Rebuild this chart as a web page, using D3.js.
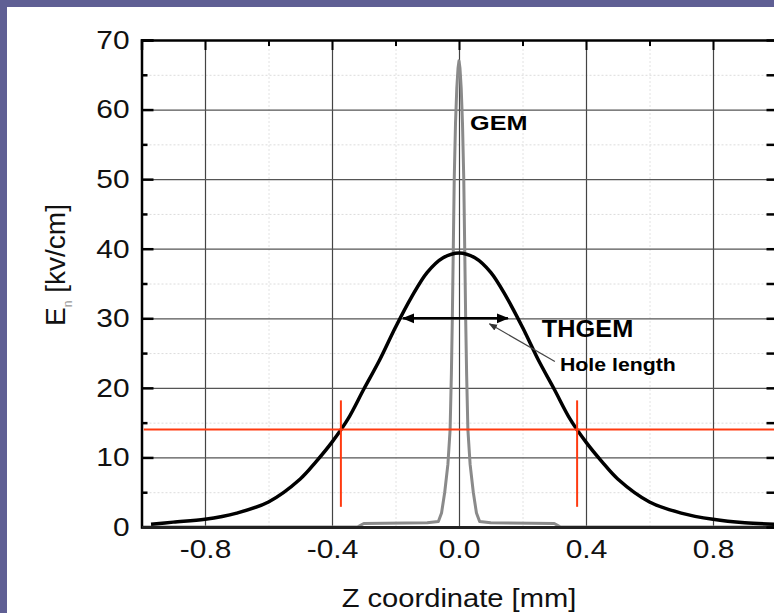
<!DOCTYPE html>
<html>
<head>
<meta charset="utf-8">
<script src="https://cdn.jsdelivr.net/npm/d3@7"></script>
<style>
  body { margin: 0; background: #5f5f94; }
  svg { display: block; }
  text { font-family: "Liberation Sans", Arial, sans-serif; }
</style>
</head>
<body>
<div id="chart"></div>
<script>
// THGEM field along the hole axis (black curve)
var thgemZ = [-0.97, -0.9, -0.8, -0.7, -0.6, -0.5, -0.45, -0.4, -0.35, -0.3, -0.25, -0.2, -0.15, -0.1, -0.05, 0,
              0.05, 0.1, 0.15, 0.2, 0.25, 0.3, 0.35, 0.4, 0.45, 0.5, 0.6, 0.7, 0.8, 0.9, 1.0];
var thgemField = [0.4, 0.7, 1.1, 2.0, 3.6, 6.9, 9.4, 12.2, 15.5, 19.8, 24.0, 28.7, 33.0, 36.6, 38.7, 39.4,
                  38.7, 36.6, 33.0, 28.7, 24.0, 19.8, 15.5, 12.2, 9.4, 6.9, 3.6, 2.0, 1.1, 0.6, 0.4];

// GEM field (grey spike)
var gemZ = [-1.0, -0.32, -0.3, -0.1, -0.065, -0.055, -0.045, -0.035, -0.028, -0.024, -0.021, -0.018, -0.015, -0.011, -0.007, -0.003, 0,
            0.003, 0.007, 0.011, 0.015, 0.018, 0.021, 0.024, 0.028, 0.035, 0.045, 0.055, 0.065, 0.1, 0.3, 0.32, 1.0];
var gemField = [0, 0, 0.5, 0.6, 0.8, 2, 5, 9, 14, 22, 30, 40, 50, 58, 63, 66, 67,
                66, 63, 58, 50, 40, 30, 22, 14, 9, 5, 2, 0.8, 0.6, 0.5, 0, 0];

// red markers: field level and hole edges
var markLevel = 14;
var holeEdges = [-0.372, 0.372];
var markTop = 18.2, markBottom = 2.9;

// hole length arrow
var arrowZ = [-0.176, 0.154];
var arrowLevel = 30;

var xTicks = [-0.8, -0.4, 0.0, 0.4, 0.8];
var xMinor = [-0.6, -0.2, 0.2, 0.6];
var yTicks = [0, 10, 20, 30, 40, 50, 60, 70];
var yMinor = [5, 15, 25, 35, 45, 55, 65];

function drawChart() {
  var svgWidth = 774, svgHeight = 613;
  var plotLeft = 141.5, plotRight = 776.5, plotTop = 40, plotBottom = 527;

  var svg = d3.select("#chart").append("svg")
    .attr("width", svgWidth)
    .attr("height", svgHeight);

  svg.append("rect")
    .attr("width", svgWidth).attr("height", svgHeight)
    .attr("fill", "#5f5f94");
  svg.append("rect")
    .attr("x", 7).attr("y", 7)
    .attr("width", svgWidth).attr("height", svgHeight)
    .attr("fill", "#ffffff");

  var x = d3.scaleLinear().domain([-1, 1]).range([plotLeft, plotRight]);
  var y = d3.scaleLinear().domain([0, 70]).range([plotBottom, plotTop]);

  // stretch text a bit wider, like the source picture
  function widen(sel, k) {
    sel.each(function() {
      var w = this.getComputedTextLength();
      d3.select(this).attr("textLength", w * k).attr("lengthAdjust", "spacingAndGlyphs");
    });
  }

  var fmtX = d => d3.format(".1f")(d).replace("−", "-");

  // minor grid (faint)
  svg.append("g")
    .attr("transform", `translate(0, ${plotBottom})`)
    .call(d3.axisBottom(x).tickValues(xMinor).tickSize(-(plotBottom - plotTop)).tickFormat(""))
    .call(g => g.select(".domain").remove())
    .selectAll("line").attr("stroke", "#e2e2e2").attr("stroke-dasharray", "2,2");
  svg.append("g")
    .attr("transform", `translate(${plotLeft}, 0)`)
    .call(d3.axisLeft(y).tickValues(yMinor).tickSize(-(plotRight - plotLeft)).tickFormat(""))
    .call(g => g.select(".domain").remove())
    .selectAll("line").attr("stroke", "#dcdcdc").attr("stroke-dasharray", "2,2");

  // major grid
  svg.append("g")
    .attr("transform", `translate(0, ${plotBottom})`)
    .call(d3.axisBottom(x).tickValues(xTicks).tickSize(-(plotBottom - plotTop)).tickFormat(""))
    .call(g => g.select(".domain").remove())
    .selectAll("line").attr("stroke", "#444").attr("stroke-width", 1.2);
  svg.append("g")
    .attr("transform", `translate(${plotLeft}, 0)`)
    .call(d3.axisLeft(y).tickValues(yTicks.slice(1, -1)).tickSize(-(plotRight - plotLeft)).tickFormat(""))
    .call(g => g.select(".domain").remove())
    .selectAll("line").attr("stroke", "#555").attr("stroke-width", 1.2);

  // curves
  var line = d3.line().x(d => x(d[0])).y(d => y(d[1]));

  svg.append("path")
    .datum(gemZ.map((z, i) => [z, gemField[i]]))
    .attr("d", line)
    .attr("fill", "none")
    .attr("stroke", "#8a8a8a")
    .attr("stroke-width", 3)
    .attr("stroke-linejoin", "round");

  svg.append("path")
    .datum(thgemZ.map((z, i) => [z, thgemField[i]]))
    .attr("d", d3.line().curve(d3.curveCatmullRom).x(d => x(d[0])).y(d => y(d[1])))
    .attr("fill", "none")
    .attr("stroke", "#000")
    .attr("stroke-width", 3.5);

  // axes
  var yAxis = svg.append("g")
    .attr("transform", `translate(${plotLeft}, 0)`)
    .call(d3.axisLeft(y).tickValues(yTicks).tickSize(-12).tickPadding(12).tickFormat(d3.format("d")));
  yAxis.select(".domain").attr("stroke", "#000").attr("stroke-width", 2.5);
  yAxis.selectAll("line").attr("stroke-width", 2.5);
  yAxis.selectAll("text").attr("font-size", 26).attr("fill", "#111").call(widen, 1.15);

  svg.append("g")
    .attr("transform", `translate(${plotLeft}, 0)`)
    .call(d3.axisLeft(y).tickValues(yMinor).tickSize(-6).tickFormat(""))
    .call(g => g.select(".domain").remove())
    .selectAll("line").attr("stroke-width", 2.5);

  var xAxis = svg.append("g")
    .attr("transform", `translate(0, ${plotBottom})`)
    .call(d3.axisBottom(x).tickValues(xTicks).tickSize(0).tickPadding(13).tickFormat(fmtX));
  xAxis.select(".domain").attr("stroke", "#222").attr("stroke-width", 3);
  xAxis.selectAll("text").attr("font-size", 26).attr("fill", "#111").call(widen, 1.15);

  var topAxis = svg.append("g")
    .attr("transform", `translate(0, ${plotTop})`)
    .call(d3.axisTop(x).tickValues(xTicks).tickSize(-10).tickFormat(""));
  topAxis.select(".domain").attr("stroke-width", 2.5);
  topAxis.selectAll("line").attr("stroke-width", 2);
  svg.append("g")
    .attr("transform", `translate(0, ${plotTop})`)
    .call(d3.axisTop(x).tickValues(xMinor).tickSize(-6).tickFormat(""))
    .call(g => g.select(".domain").remove())
    .selectAll("line").attr("stroke-width", 2);

  svg.append("g")
    .attr("transform", `translate(${plotRight}, 0)`)
    .call(d3.axisRight(y).tickValues(yTicks.concat(yMinor)).tickSize(-10).tickFormat(""))
    .selectAll("line").attr("stroke-width", 2.5);

  // red markers
  svg.append("line")
    .attr("x1", x(-0.993)).attr("x2", plotRight)
    .attr("y1", y(markLevel)).attr("y2", y(markLevel))
    .attr("stroke", "#ff3a10").attr("stroke-width", 2);
  svg.selectAll(".edge").data(holeEdges).enter().append("line")
    .attr("class", "edge")
    .attr("x1", d => x(d)).attr("x2", d => x(d))
    .attr("y1", y(markTop)).attr("y2", y(markBottom))
    .attr("stroke", "#ff3a10").attr("stroke-width", 2);

  // hole length arrow
  var defs = svg.append("defs");
  defs.append("marker")
    .attr("id", "head").attr("viewBox", "0 0 10 10")
    .attr("refX", 9).attr("refY", 5)
    .attr("markerWidth", 5).attr("markerHeight", 5)
    .attr("orient", "auto-start-reverse")
    .append("path").attr("d", "M0,1 L10,5 L0,9 Z").attr("fill", "#000");
  defs.append("marker")
    .attr("id", "thin").attr("viewBox", "0 0 10 10")
    .attr("refX", 9).attr("refY", 5)
    .attr("markerWidth", 7).attr("markerHeight", 7)
    .attr("orient", "auto")
    .append("path").attr("d", "M0,1 L10,5 L0,9 Z").attr("fill", "#333");

  svg.append("line")
    .attr("x1", x(arrowZ[0])).attr("x2", x(arrowZ[1]))
    .attr("y1", y(arrowLevel)).attr("y2", y(arrowLevel))
    .attr("stroke", "#000").attr("stroke-width", 2.5)
    .attr("marker-start", "url(#head)").attr("marker-end", "url(#head)");

  svg.append("line")
    .attr("x1", x(0.302)).attr("y1", y(23.8))
    .attr("x2", x(0.096)).attr("y2", y(29.2))
    .attr("stroke", "#444").attr("stroke-width", 1.2)
    .attr("marker-end", "url(#thin)");

  // labels
  svg.append("text")
    .attr("x", x(0.035)).attr("y", y(57))
    .attr("font-size", 21).attr("font-weight", "bold")
    .text("GEM").call(widen, 1.2);

  svg.append("text")
    .attr("x", x(0.261)).attr("y", y(27.3))
    .attr("font-size", 23).attr("font-weight", "bold")
    .text("THGEM").call(widen, 1.1);

  svg.append("text")
    .attr("x", x(0.318)).attr("y", y(22.4))
    .attr("font-size", 19).attr("font-weight", "bold")
    .text("Hole length").call(widen, 1.12);

  svg.append("text")
    .attr("x", x(0)).attr("y", 607)
    .attr("text-anchor", "middle")
    .attr("font-size", 26).attr("fill", "#111")
    .text("Z coordinate [mm]").call(widen, 1.12);

  var yLabel = svg.append("text")
    .attr("transform", "translate(65, 265) rotate(-90)")
    .attr("text-anchor", "middle")
    .attr("font-size", 28).attr("fill", "#111");
  yLabel.append("tspan").text("E");
  yLabel.append("tspan").attr("font-size", 12).attr("dy", 7).attr("fill", "#999").text("n");
  yLabel.append("tspan").attr("dy", -7).text(" [kv/cm]");
}

drawChart();
</script>
</body>
</html>
